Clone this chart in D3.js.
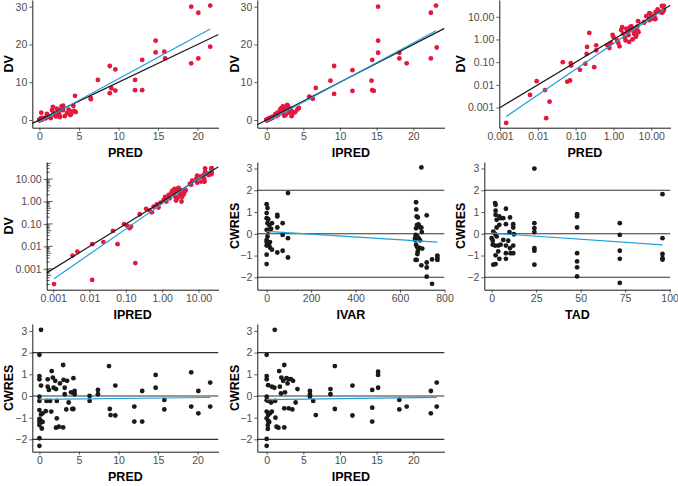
<!DOCTYPE html>
<html><head><meta charset="utf-8">
<script src="https://cdn.jsdelivr.net/npm/d3@7"></script>
<style>body{margin:0;background:#fff}svg{display:block}text{font-family:"Liberation Sans",Arial,Helvetica,sans-serif}</style>
</head><body><svg id="c" width="678" height="486"></svg>
<script>
// ---------- DATA ----------
// PRED vs DV (used by linear and log panels)
const predDV = [
 [0.00145,0.00021],[0.0062,0.0036],[0.0093,0.0145],[0.0155,0.0059],[0.0166,0.00034],[0.0204,0.0018],
 [0.0457,0.1],[0.06,0.0138],[0.071,0.0155],[0.074,0.091],[0.076,0.071],[0.13,0.046],[0.18,0.085],
 [0.195,0.23],[0.2,0.47],[0.23,1.95],[0.31,0.06],[0.35,0.55],[0.35,0.33],
 [0.69,0.55],[0.78,0.42],[0.85,0.69],[0.95,1.6],[1.0,1.3],[1.26,0.91],[1.35,0.69],[1.45,0.5],[1.6,2.6],
 [1.7,3.5],[1.8,1.8],[2.0,1.2],[2.1,0.91],[2.2,3.0],[2.3,2.1],[2.5,1.55],[2.6,0.78],[2.6,2.6],[2.8,3.6],
 [3.0,2.6],[3.0,3.8],[3.2,1.0],[3.5,1.8],[3.7,2.75],[3.9,1.3],[4.0,1.55],[4.1,2.2],[4.3,3.7],[4.4,2.4],[4.6,2.1],
 [4.5,6.4],[6.5,5.8],[6.5,5.5],[7.4,10.6],[8.9,14.3],[8.9,7.1],[9.1,8.4],[9.6,13.4],[9.6,7.8],[12.1,10.6],
 [12.1,7.9],[13.0,15.9],[13.0,7.9],[14.7,21.0],[14.7,17.9],[15.8,18.1],[15.9,16.3],[19.2,30.0],[19.2,15.0],
 [20.1,28.4],[20.1,16.3],[21.6,30.3],[21.6,19.4]
];
// IPRED vs DV
const ipredDV = [
 [0.00105,0.00021],[0.0034,0.0039],[0.0046,0.0059],[0.0118,0.0126],[0.0118,0.00032],[0.024,0.0155],
 [0.059,0.0126],[0.044,0.049],[0.089,0.098],[0.107,0.085],[0.126,0.065],[0.138,0.076],[0.182,0.0018],
 [0.24,0.27],[0.36,0.47],[0.52,0.33],[0.58,0.59],[0.71,0.74],[0.79,0.54],
 [0.45,0.4],[0.9,0.9],[1.1,1.17],[1.2,1.6],[1.3,1.0],[1.5,1.95],[1.6,1.38],[1.8,2.5],[1.9,2.95],[2.0,3.1],
 [2.1,2.3],[2.2,3.6],[2.3,1.6],[2.4,1.1],[2.5,3.5],[2.45,2.75],[2.6,1.38],[2.8,4.0],[2.9,3.7],[3.0,1.95],
 [3.1,3.1],[3.2,2.95],[3.4,1.0],[3.4,2.4],[3.5,1.6],[3.6,1.9],[3.9,2.1],[4.2,2.8],[4.4,3.2],
 [5.8,6.2],[5.9,6.0],[6.3,5.6],[6.7,8.5],[8.7,10.4],[9.2,14.3],[9.2,6.9],[11.7,13.2],[11.7,7.7],[14.3,10.4],
 [14.4,15.9],[14.4,7.9],[14.6,7.7],[15.2,30.0],[15.2,21.0],[15.2,17.8],[18.1,17.8],[18.1,16.3],[19.1,15.0],
 [22.4,28.4],[22.4,16.3],[23.1,30.3],[23.2,19.2]
];
// IVAR vs CWRES
const ivarCW = [
 [0,1.36],[4,1.18],[0,0.95],[0,0.72],[7,0.67],[4,0.49],[12,0.38],[24,0.49],[20,0.23],[0,0.18],[15,0.18],
 [7,0.14],[4,-0.12],[0,-0.28],[0,-0.38],[15,-0.38],[10,-0.5],[0,-0.54],[15,-0.63],[24,-0.73],[0,-0.96],
 [0,-1.39],[48,0.87],[48,0.8],[48,0.29],[48,-0.86],[72,0.49],[72,-0.05],[72,-0.78],[96,1.87],[96,-0.2],[96,-1.09],
 [672,1.45],[673,1.12],[675,0.8],[680,0.75],[676,0.4],[683,0.43],[690,0.3],[696,0.28],[698,0.08],[670,-0.05],
 [678,-0.12],[668,-0.2],[685,-0.22],[672,-0.5],[676,-0.6],[688,-0.65],[680,-0.8],[678,-0.93],[670,-1.2],
 [675,-1.2],[696,-1.45],[720,0.85],[720,-1.32],[720,-1.55],[720,-1.97],[744,-2.3],[744,-1.18],[768,-1.0],
 [768,-1.1],[768,-1.2],[696,3.05],[690,-0.3],[700,-0.68],[682,0.35],[672,0.25],[668,-0.28]
];
// TAD vs CWRES
const tadCW = [
 [24,3.0],[1.9,1.41],[2.2,1.33],[2.2,1.06],[2.2,0.87],[2.8,0.64],[4.3,0.8],[5,0.72],[6.5,0.72],[8,1.15],
 [10.3,0.75],[12.1,0.44],[12.1,0.29],[8,0.44],[4.3,0.41],[2.8,0.29],[0.9,0.1],[1.9,0],[0,-0.2],[0.6,-0.32],
 [0.6,-0.5],[1.9,-0.54],[3.7,-0.54],[5,-0.5],[6.5,-0.28],[8,-0.54],[9.3,-0.32],[10.3,-0.66],[12.1,-0.54],
 [8,-0.89],[10.6,-0.89],[12.1,-0.89],[2.2,-0.99],[4.3,-1.15],[8,-1.15],[0.9,-1.42],[2.2,-1.39],[2.8,-0.12],
 [3.7,-0.81],[10,0.08],[12.5,-0.02],
 [24,0.49],[24,0.26],[24,0.08],[24,-0.66],[24,-0.78],[24,-1.42],
 [48,0.9],[48,0.8],[48,0.29],[48,-0.89],[48,-1.27],[48,-1.54],[48,-1.96],
 [72,0.49],[72,-0.05],[72,-0.78],[72,-1.15],[72,-2.26],
 [96,1.82],[96,-0.2],[96,-0.93],[96,-1.12],[96,-1.19]
];
// PRED vs CWRES
const predCW = [
 [0.2,3.05],[0,1.9],[0,0.92],[0,0.77],[0.2,0.48],[0,-0.03],[0,-0.23],[0,-0.65],[0.2,-0.85],[0.4,-0.8],
 [0,-1.06],[0,-1.2],[0,-1.34],[0.2,-1.15],[0.3,-1.5],[0,-1.95],[0,-2.3],[0.4,-1.2],[0.8,-0.7],[0.9,-0.23],
 [1.05,0.43],[1.05,0.77],[1.2,0.28],[1.35,-0.23],[1.5,-0.72],[1.55,1.15],[1.7,0.85],[1.8,0.38],[2.0,0.7],
 [2.1,0.32],[2.2,-0.23],[2.2,-1.03],[2.1,-1.46],[2.45,-1.42],[2.6,0.58],[3.0,-1.45],[3.0,1.43],[3.05,0.74],
 [3.2,0.38],[3.2,0.08],[3.5,0.7],[3.4,-0.62],[3.7,-0.3],[4.0,0.17],[4.15,-0.6],[4.3,0.82],[4.45,0.23],
 [4.45,0.08],[4.3,-0.6],[6.35,0],[6.35,-0.23],[7.4,0.28],[7.4,0.08],[8.8,1.38],[8.9,-0.6],[9.0,-0.88],
 [9.6,0.48],[9.6,-0.9],[12.0,-0.49],[12.0,-1.18],[13.0,0.23],[13.0,-1.18],[14.7,0.97],[14.7,0.38],
 [15.8,-0.18],[15.8,-0.62],[19.2,1.09],[19.2,-0.49],[20.1,0.23],[20.1,-0.8],[21.6,0.62],[21.6,-0.49]
];
// IPRED vs CWRES
const ipredCW = [
 [1.1,3.05],[0,1.9],[0,0.92],[0,0.77],[0.2,0.5],[0,-0.03],[0,-0.2],[0.3,-0.23],[0.6,-0.3],[0,-0.72],
 [0.2,-0.88],[0.45,-0.8],[0.7,-0.72],[0,-1.03],[0.2,-1.15],[0.15,-1.34],[0.35,-1.2],[0.15,-1.52],[0,-1.98],
 [0,-2.3],[0.7,0.43],[1.05,0.38],[1.15,-0.23],[1.2,-1.0],[1.35,-1.42],[1.6,-1.46],[1.7,1.15],[1.8,0.43],
 [1.95,0.12],[2.0,0.85],[2.25,0.7],[2.4,1.43],[2.4,-0.57],[2.4,-1.45],[2.5,0.17],[2.7,0.82],[2.85,0.58],
 [3.0,-0.57],[3.0,0.78],[3.3,0.78],[3.5,-0.62],[3.6,0.7],[3.95,-0.3],[4.2,0.32],[5.9,0.23],[5.9,0.08],
 [5.9,-0.03],[6.35,-0.23],[6.7,-0.88],[8.7,0.32],[8.7,0.08],[9.3,1.38],[9.3,-0.6],[11.7,0.48],[11.7,-0.9],
 [14.4,0.28],[14.4,-0.54],[14.4,-1.18],[15.2,1.12],[15.2,0.97],[15.2,0.38],[18.1,-0.18],[18.1,-0.62],
 [19.1,-0.49],[22.4,0.23],[22.4,-0.8],[23.2,0.62],[23.2,-0.49]
];
// fitted (lm) lines, endpoints
const fitPredDV = [[0,-0.44],[21.6,24.1]];
const fitIpredDV = [[0,-0.44],[23.1,23.65]];
const fitPredDVlog = [[0.00145,0.0004],[21.6,21.4]];
const fitIpredDVlog = [[0.00105,0.00036],[23.2,27]];
const fitIvar = [[0,0.11],[768,-0.38]];
const fitTad = [[0,0.03],[96,-0.51]];
const fitPredCW = [[0,-0.16],[21.6,-0.07]];
const fitIpredCW = [[0,-0.17],[23.2,-0.06]];
// tick values / labels
const linTicks = [0,5,10,15,20];
const dvTicks = [0,10,20,30];
const logTicks = [0.001,0.01,0.1,1,10];
const logLabels = ["0.001","0.01","0.10","1.00","10.00"];
const ivarTicks = [0,200,400,600,800];
const tadTicks = [0,25,50,75,100];
const cwTicks = [-2,-1,0,1,2,3];
const refLines = [-2,0,2];

// ---------- LAYOUT ----------
const cw = 226, ch = 162;
const RED = "#e3193b", BLUE = "#1f9fdc";
const svg = d3.select("#c");
const fmtLin = d => String(d).replace("-", "\u2212");
const fmtLog = d => logLabels[logTicks.indexOf(d)];

const panels = [
 {row:0,col:0,left:32.3,xlab:"PRED",ylab:"DV",kind:"dv",log:false,pts:predDV,fit:fitPredDV,xd:[-0.9,22.65],yd:[-2.04,31.77],xt:linTicks,yt:dvTicks},
 {row:0,col:1,left:31.3,xlab:"IPRED",ylab:"DV",kind:"dv",log:false,pts:ipredDV,fit:fitIpredDV,xd:[-1.28,24.26],yd:[-2.04,31.77],xt:linTicks,yt:dvTicks},
 {row:0,col:2,left:47.3,xlab:"PRED",ylab:"DV",kind:"dv",log:true,pts:predDV,fit:fitPredDVlog,xd:[-3.02,1.51],yd:[-3.89,1.74],xt:logTicks,yt:logTicks,logticks:false},
 {row:1,col:0,left:46.7,xlab:"IPRED",ylab:"DV",kind:"dv",log:true,pts:ipredDV,fit:fitIpredDVlog,xd:[-3.18,1.55],yd:[-3.93,1.76],xt:logTicks,yt:logTicks,logticks:true},
 {row:1,col:1,left:31.3,xlab:"IVAR",ylab:"CWRES",kind:"cw",log:false,pts:ivarCW,fit:fitIvar,xd:[-42,800],yd:[-2.57,3.3],xt:ivarTicks,yt:cwTicks},
 {row:1,col:2,left:32.3,xlab:"TAD",ylab:"CWRES",kind:"cw",log:false,pts:tadCW,fit:fitTad,xd:[-4.15,100.5],yd:[-2.57,3.3],xt:tadTicks,yt:cwTicks},
 {row:2,col:0,left:32.3,xlab:"PRED",ylab:"CWRES",kind:"cw",log:false,pts:predCW,fit:fitPredCW,xd:[-0.9,22.65],yd:[-2.57,3.32],xt:linTicks,yt:cwTicks},
 {row:2,col:1,left:31.3,xlab:"IPRED",ylab:"CWRES",kind:"cw",log:false,pts:ipredCW,fit:fitIpredCW,xd:[-1.28,24.26],yd:[-2.57,3.32],xt:linTicks,yt:cwTicks}
];

panels.forEach((p, i) => {
  const cx = p.col * cw, cy = p.row * ch;
  const L = cx + p.left, R = cx + cw - 7.5, T = cy, B = cy + 127.7;
  let x, y;
  if (p.log) {
    x = d3.scaleLog().domain(p.xd.map(v => Math.pow(10, v))).range([L, R]);
    y = d3.scaleLog().domain(p.yd.map(v => Math.pow(10, v))).range([B, T]);
  } else {
    x = d3.scaleLinear().domain(p.xd).range([L, R]);
    y = d3.scaleLinear().domain(p.yd).range([B, T]);
  }
  const g = svg.append("g");
  const cid = "clip" + i;
  svg.append("clipPath").attr("id", cid).append("rect")
    .attr("x", L).attr("y", T).attr("width", R - L).attr("height", B - T);
  const pg = g.append("g").attr("clip-path", `url(#${cid})`);

  if (p.kind === "cw") {
    pg.selectAll("line.ref").data(refLines).join("line")
      .attr("x1", L).attr("x2", R).attr("y1", d => y(d)).attr("y2", d => y(d))
      .attr("stroke", "#333").attr("stroke-width", 1.1);
  }
  pg.selectAll("circle").data(p.pts).join("circle")
    .attr("cx", d => x(d[0])).attr("cy", d => y(d[1])).attr("r", 2.4)
    .attr("fill", p.kind === "dv" ? RED : "#1a1a1a");
  if (p.kind === "dv") {
    const dom = x.domain();
    pg.append("line")
      .attr("x1", x(dom[0])).attr("y1", y(dom[0]))
      .attr("x2", x(dom[1])).attr("y2", y(dom[1]))
      .attr("stroke", "#1a1a1a").attr("stroke-width", 1.2);
  }
  pg.append("path").datum(p.fit)
    .attr("d", d3.line().x(d => x(d[0])).y(d => y(d[1])))
    .attr("fill", "none").attr("stroke", BLUE).attr("stroke-width", 1.2);

  if (p.logticks) {
    const lt = [];
    for (let e = -4; e <= 2; e++) for (let k = 1; k <= 9; k++) {
      const v = k * Math.pow(10, e);
      const yy = y(v);
      if (yy >= T && yy <= B) lt.push({yy, len: k === 1 ? 6 : (k === 5 ? 4.5 : 3)});
    }
    g.selectAll("line.lt").data(lt).join("line")
      .attr("x1", L).attr("x2", d => L + d.len).attr("y1", d => d.yy).attr("y2", d => d.yy)
      .attr("stroke", "#333").attr("stroke-width", 0.8);
  }

  const xa = d3.axisBottom(x).tickValues(p.xt).tickFormat(p.log ? fmtLog : fmtLin)
    .tickSize(3).tickSizeOuter(0).tickPadding(2);
  const ya = d3.axisLeft(y).tickValues(p.yt).tickFormat(p.log ? fmtLog : fmtLin)
    .tickSize(3).tickSizeOuter(0).tickPadding(2);
  const gx = g.append("g").attr("transform", `translate(0,${B})`).call(xa);
  const gy = g.append("g").attr("transform", `translate(${L},0)`).call(ya);
  [gx, gy].forEach(a => {
    a.select(".domain").attr("stroke", "#000").attr("stroke-width", 0.9);
    a.selectAll(".tick line").attr("stroke", "#333").attr("stroke-width", 0.8);
    a.selectAll(".tick text").attr("fill", "#4d4d4d").style("font-size", "10.5px")
      .style("font-family", '"Liberation Sans",Arial,sans-serif');
  });
  g.append("text").attr("x", (L + R) / 2).attr("y", B + 29).attr("text-anchor", "middle")
    .style("font-size", "12.5px").style("font-weight", "bold").attr("fill", "#000").text(p.xlab);
  g.append("text").attr("transform", `translate(${cx + 12.5},${(T + B) / 2}) rotate(-90)`)
    .attr("text-anchor", "middle")
    .style("font-size", "12.5px").style("font-weight", "bold").attr("fill", "#000").text(p.ylab);
});
</script></body></html>
